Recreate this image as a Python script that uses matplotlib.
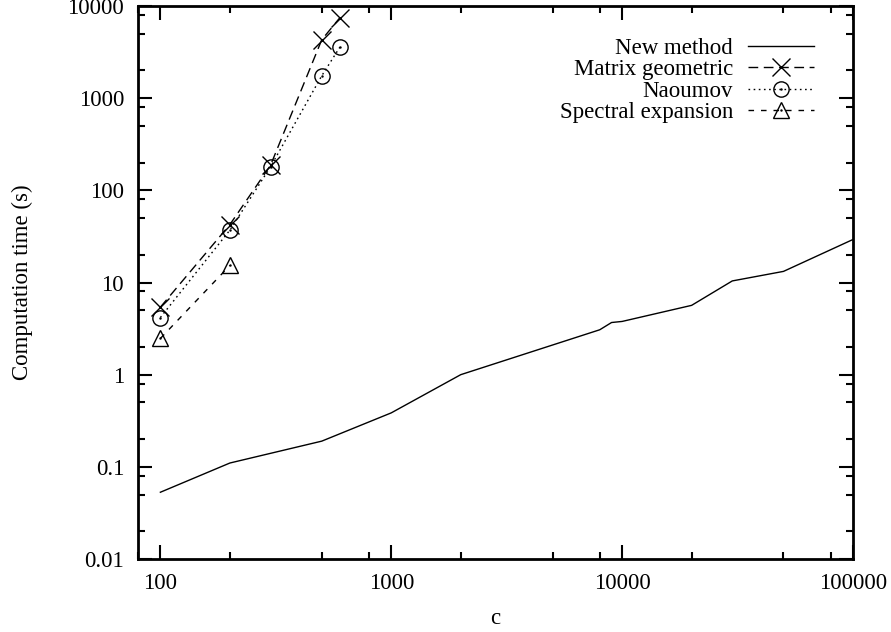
import matplotlib
matplotlib.use("Agg")
import matplotlib.pyplot as plt
from matplotlib.ticker import LogLocator, NullFormatter

plt.rcParams['font.family'] = ['Liberation Serif', 'DejaVu Serif']
plt.rcParams['font.size'] = 16.5

# data
c_new = [100, 200, 500, 1000, 2000, 8000, 9000, 10000, 20000, 30000, 50000, 100000]
t_new = [0.053, 0.11, 0.19, 0.385, 1.0, 3.07, 3.68, 3.78, 5.65, 10.4, 13.2, 29.3]

c_matrix = [100, 200, 300, 500, 600]
t_matrix = [5.4, 42.5, 187, 4300, 7500]

c_naoumov = [100, 200, 300, 500, 600]
t_naoumov = [4.17, 37, 180, 1750, 3600]

c_spectral = [100, 200]
t_spectral = [2.47, 15.3]

x_ticks = [100, 1000, 10000, 100000]
x_labels = ["100", "1000", "10000", "100000"]
y_ticks = [0.01, 0.1, 1, 10, 100, 1000, 10000]
y_labels = ["0.01", "0.1", "1", "10", "100", "1000", "10000"]

fig = plt.figure(figsize=(8.91, 6.32), dpi=100)
ax = fig.add_axes([138/891, 1 - 559/632, (853 - 138)/891, (559 - 6)/632])

l_new, = ax.plot(c_new, t_new, color='black', lw=1.0, label='New method')
l_mat, = ax.plot(c_matrix, t_matrix, color='black', lw=1.0, dashes=(7, 4),
                 marker='x', markersize=13, markeredgewidth=1.0)
l_nao, = ax.plot(c_naoumov, t_naoumov, color='black', lw=1.0, dashes=(1.2, 2.5),
                 marker='o', markersize=11, fillstyle='none', markeredgewidth=1.0)
d_nao, = ax.plot(c_naoumov, t_naoumov, ls='none', marker='.', markersize=1.5, color='black')
l_spe, = ax.plot(c_spectral, t_spectral, color='black', lw=1.0, dashes=(4, 5),
                 marker='^', markersize=11, fillstyle='none', markeredgewidth=1.0)
d_spe, = ax.plot(c_spectral, t_spectral, ls='none', marker='.', markersize=1.5, color='black')

ax.legend([l_new, l_mat, (l_nao, d_nao), (l_spe, d_spe)],
          ['New method', 'Matrix geometric', 'Naoumov', 'Spectral expansion'],
          loc='upper right', bbox_to_anchor=(0.975, 0.98), frameon=False,
          markerfirst=False, handlelength=2.9, labelspacing=0.02,
          handletextpad=0.65, fontsize=16.5)

ax.set_xscale('log')
ax.set_yscale('log')
ax.set_xlim(80, 100000)
ax.set_ylim(0.01, 10000)

ax.set_xticks(x_ticks)
ax.set_xticklabels(x_labels)
ax.set_yticks(y_ticks)
ax.set_yticklabels(y_labels)
ax.xaxis.set_minor_locator(LogLocator(base=10, subs=[2, 5, 8]))
ax.yaxis.set_minor_locator(LogLocator(base=10, subs=[2, 5, 8]))
ax.xaxis.set_minor_formatter(NullFormatter())
ax.yaxis.set_minor_formatter(NullFormatter())

ax.tick_params(which='both', direction='in', top=True, right=True, width=1.5)
ax.tick_params(which='major', length=10, pad=10)
ax.tick_params(which='minor', length=5)
for s in ax.spines.values():
    s.set_linewidth(2)

ax.set_xlabel('c', labelpad=10)
ax.set_ylabel('Computation time (s)', labelpad=25)

plt.savefig('out.png', dpi=100)
